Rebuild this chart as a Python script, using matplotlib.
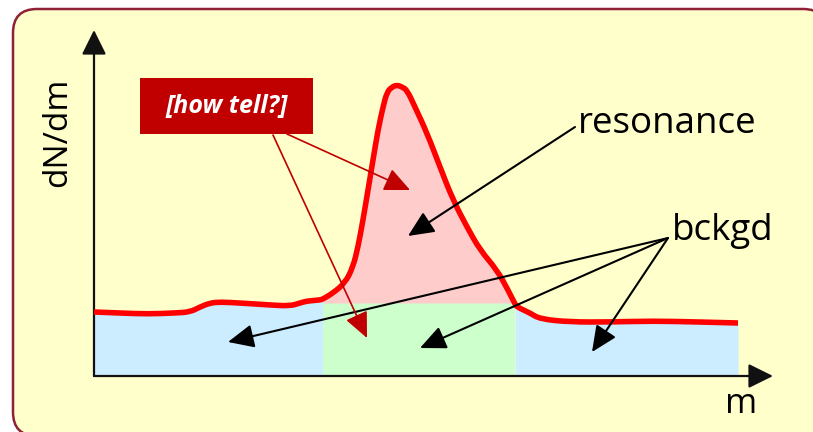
import numpy as np
import matplotlib
matplotlib.use("Agg")
import matplotlib.pyplot as plt
from matplotlib.patches import FancyBboxPatch, Rectangle, PathPatch
from matplotlib.path import Path

plt.rcParams['font.family'] = ['Open Sans', 'DejaVu Sans']

# spectrum shape (m, dN/dm), origin at axis corner
curve_m = np.array([0, 26, 53, 81, 96, 106, 116, 126, 146, 176, 196, 206, 213, 226,
                    229, 239, 251, 259, 264, 269, 274, 279, 284, 289, 293, 298, 303,
                    308, 313, 321, 333, 346, 359, 373, 386, 403, 414, 421, 423, 436,
                    446, 476, 516, 559, 606, 644])
curve_y = np.array([64, 63, 62, 63, 64, 69, 73, 74, 73, 71, 70, 73, 75, 76,
                    77, 83, 93, 109, 129, 156, 186, 216, 246, 269, 284, 289, 291,
                    289, 286, 269, 243, 209, 176, 149, 126, 106, 86, 72, 69, 63,
                    57, 54, 54, 55, 54, 53])

peak_lo, peak_hi = 229, 421   # resonance window
bg_level = 73                 # background under the peak

# annotation anchors
reso_text = (484, 243)
reso_start = (481, 249)
reso_tip = (314, 140)
bck_text = (578, 136)
bck_start = (574, 138)
bck_tips = [(134, 34), (326, 28), (498, 24)]
tell_box = (46, 242, 173, 56)
tell_starts = [(179, 241), (193, 242)]
tell_tips = [(273, 38), (316, 186)]


def smooth_path(xs, ys):
    # quadratic pieces through midpoints, control points at the samples
    pts = np.column_stack([xs, ys]).astype(float)
    verts = [pts[0]]
    codes = [Path.MOVETO]
    verts.append((pts[0] + pts[1]) / 2)
    codes.append(Path.LINETO)
    for i in range(1, len(pts) - 1):
        verts += [pts[i], (pts[i] + pts[i + 1]) / 2]
        codes += [Path.CURVE3, Path.CURVE3]
    verts.append(pts[-1])
    codes.append(Path.LINETO)
    return Path(verts, codes)


fig = plt.figure(figsize=(8.13, 4.32), dpi=100)
ax = fig.add_axes([0, 0, 1, 1])
ax.set_xlim(-94, 719)
ax.set_ylim(-56, 376)
ax.axis('off')

# panel: top-left corner visible, right/bottom edges just off the canvas
ax.add_patch(FancyBboxPatch((-81, -60), 814, 427,
                            boxstyle="round,pad=0,rounding_size=24",
                            fc='#FFFFCC', ec='#8E2138', lw=1.8, zorder=0))

left = curve_m <= peak_lo
mid = (curve_m >= peak_lo) & (curve_m <= peak_hi)
right = curve_m >= peak_hi
ax.fill_between(curve_m[left], 0, curve_y[left], color='#CCECFF', lw=0, zorder=1)
ax.fill_between(curve_m[right], 0, curve_y[right], color='#CCECFF', lw=0, zorder=1)
ax.fill_between([peak_lo, peak_hi], 0, bg_level, color='#CCFFCC', lw=0, zorder=1)
ax.fill_between(curve_m[mid], bg_level, curve_y[mid], color='#FFCCCC', lw=0, zorder=1)

# axes
axis_head = '-|>,head_length=1.05,head_width=0.52'
ax.annotate('', xy=(0, 346), xytext=(0, 0),
            arrowprops=dict(arrowstyle=axis_head, mutation_scale=14.4,
                            color='#111111', lw=1.6, shrinkA=0, shrinkB=0), zorder=3)
ax.annotate('', xy=(679, 0), xytext=(0, 0),
            arrowprops=dict(arrowstyle=axis_head, mutation_scale=14.4,
                            color='#111111', lw=1.6, shrinkA=0, shrinkB=0), zorder=3)

ax.add_patch(PathPatch(smooth_path(curve_m, curve_y), fc='none', ec='#FF0000',
                       lw=4.0, capstyle='butt', joinstyle='round', zorder=4))

ax.text(-36, 244, 'dN/dm', rotation=90, ha='center', va='center', fontsize=24)
ax.text(631, -37, 'm', ha='left', va='baseline', fontsize=25)
ax.text(*reso_text, 'resonance', ha='left', va='baseline', fontsize=26.5)
ax.text(*bck_text, 'bckgd', ha='left', va='baseline', fontsize=26.5)

ax.add_patch(Rectangle(tell_box[:2], tell_box[2], tell_box[3], fc='#C00000',
                       ec='none', zorder=5))
ax.text(tell_box[0] + tell_box[2] / 2, tell_box[1] + tell_box[3] / 2, '[how tell?]',
        color='white', fontsize=18, fontweight='bold', fontstyle='italic',
        ha='center', va='center', zorder=6)

head = '-|>,head_length=1.1,head_width=0.5'
ax.annotate('', xy=reso_tip, xytext=reso_start,
            arrowprops=dict(arrowstyle=head, mutation_scale=14.4, color='black',
                            lw=1.5, shrinkA=0, shrinkB=0), zorder=7)
for tip in bck_tips:
    ax.annotate('', xy=tip, xytext=bck_start,
                arrowprops=dict(arrowstyle=head, mutation_scale=14.4, color='black',
                                lw=1.5, shrinkA=0, shrinkB=0), zorder=7)
for start, tip in zip(tell_starts, tell_tips):
    ax.annotate('', xy=tip, xytext=start,
                arrowprops=dict(arrowstyle=head, mutation_scale=14.4, color='#C00000',
                                lw=1.2, shrinkA=0, shrinkB=0), zorder=7)

fig.savefig('out.png', dpi=100)
